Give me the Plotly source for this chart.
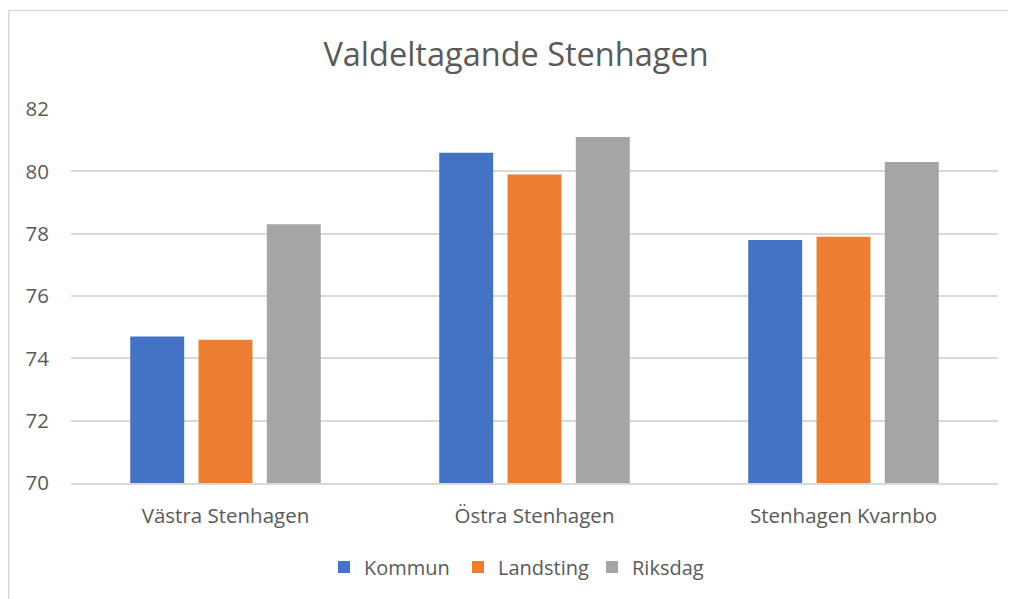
import plotly.graph_objects as go

categories = ["Västra Stenhagen", "Östra Stenhagen", "Stenhagen Kvarnbo"]
kommun = [74.7, 80.6, 77.8]
landsting = [74.6, 79.9, 77.9]
riksdag = [78.3, 81.1, 80.3]
series_names = ["Kommun", "Landsting", "Riksdag"]
colors = ["#4472C4", "#ED7D31", "#A5A5A5"]
y_ticks = [70, 72, 74, 76, 78, 80, 82]

# page body has an 8px margin, so figure coords = screen coords - 8
W, H = 1008, 591
ML, MR, MT, MB = 63, 18, 101, 116
PW, PH = W - ML - MR, H - MT - MB

font_family = "Open Sans, Noto Sans, sans-serif"
text_color = "#595959"

fig = go.Figure()
for name, vals, col in zip(series_names, [kommun, landsting, riksdag], colors):
    fig.add_trace(go.Bar(name=name, x=categories, y=vals, marker=dict(color=col, line=dict(width=0))))

def px_x(p):
    return (p - ML) / PW

def px_y(p):
    return (H - MB - p) / PH

fig.update_layout(
    width=W, height=H,
    margin=dict(l=ML, r=MR, t=MT, b=MB, autoexpand=False),
    paper_bgcolor="white", plot_bgcolor="white",
    barmode="group", bargap=0.337, bargroupgap=0.21,
    font=dict(family=font_family, color=text_color),
    title=dict(text="Valdeltagande Stenhagen", x=(516 - 8) / W, xanchor="center",
               y=1 - 47 / H, yanchor="middle", yref="container",
               font=dict(size=32.5, color=text_color, family=font_family)),
    xaxis=dict(showgrid=False, showline=True, linecolor="#D9D9D9", linewidth=1.5,
               ticks="", tickfont=dict(size=20.5, color=text_color), ticklabelstandoff=14),
    yaxis=dict(range=[70, 82], tickvals=y_ticks, showgrid=True, gridcolor="#D9D9D9", gridwidth=1.5,
               zeroline=False, showline=False, ticks="", tickfont=dict(size=20.5, color=text_color),
               ticklabelstandoff=21),
    legend=dict(orientation="h", x=(525 - 8 - ML) / PW, xanchor="center", y=px_y(559), yanchor="middle",
                font=dict(size=20, color=text_color), itemwidth=30, traceorder="normal",
                entrywidth=89, entrywidthmode="pixels"),
    showlegend=True,
    shapes=[dict(type="rect", xref="paper", yref="paper",
                 x0=px_x(0.75), x1=px_x(1040), y0=px_y(640), y1=px_y(2.5),
                 line=dict(color="#D9D9D9", width=1.5), layer="below")],
)

fig.write_html("out.html")
